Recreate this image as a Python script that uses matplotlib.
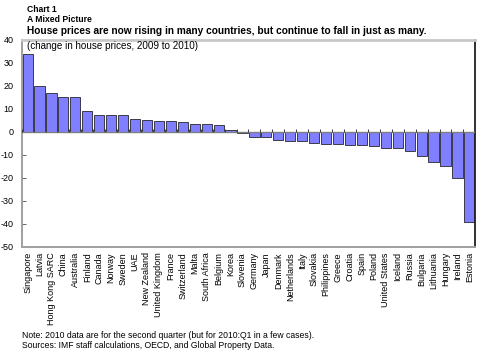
import numpy as np
import matplotlib
matplotlib.use("Agg")
import matplotlib.pyplot as plt

plt.rcParams['font.family'] = ['Liberation Sans', 'DejaVu Sans']

# house price change 2009 -> 2010, percent
countries = [
    "Singapore", "Latvia", "Hong Kong SARC", "China", "Australia", "Finland",
    "Canada", "Norway", "Sweden", "UAE", "New Zealand", "United Kingdom",
    "France", "Switzerland", "Malta", "South Africa", "Belgium", "Korea",
    "Slovenia", "Germany", "Japan", "Denmark", "Netherlands", "Italy",
    "Slovakia", "Philippines", "Greece", "Croatia", "Spain", "Poland",
    "United States", "Iceland", "Russia", "Bulgaria", "Lithuania", "Hungary",
    "Ireland", "Estonia",
]
changes = [
    33.8, 20.0, 16.8, 15.1, 15.1, 9.0,
    7.4, 7.4, 7.4, 5.5, 5.1, 4.5,
    4.5, 4.1, 3.5, 3.5, 3.0, 0.9,
    -0.4, -2.2, -2.2, -3.6, -3.9, -4.2,
    -5.1, -5.2, -5.2, -5.7, -5.8, -6.1,
    -7.1, -7.2, -8.4, -10.4, -13.3, -14.9,
    -20.0, -39.2,
]
yticks = [40, 30, 20, 10, 0, -10, -20, -30, -40, -50]

fig = plt.figure(figsize=(4.94, 3.6), dpi=100)
ax = fig.add_axes([0.0445, 0.315, 0.917, 0.575])

x = np.arange(len(countries))
ax.bar(x, changes, width=0.85, color='#7f7fff', edgecolor='#3a3a4a', linewidth=0.7, zorder=2)

# zero line with small category-boundary ticks
ax.axhline(0, color='#808080', linewidth=1.0, zorder=3)
ax.vlines(np.arange(len(countries) + 1) - 0.5, 0, 1.2, color='#404040', linewidth=0.7, zorder=3)

ax.set_xlim(-0.47, len(countries) - 0.53)
ax.set_ylim(-50, 40)
ax.set_yticks(yticks)
ax.set_yticklabels([str(v) for v in yticks], fontsize=6.5)
ax.tick_params(axis='y', direction='in', length=3, width=0.7, color='#606060', pad=6)
ax.set_xticks(x)
ax.set_xticklabels(countries, rotation=90, fontsize=6.5, va='top', ha='center')
ax.tick_params(axis='x', length=0, pad=4)

for side in ['left', 'bottom']:
    ax.spines[side].set_color('#a0a0a0')
    ax.spines[side].set_linewidth(1.4)
ax.spines['top'].set_color('#c8c8c8')
ax.spines['top'].set_linewidth(2.0)
ax.spines['right'].set_color('#202020')
ax.spines['right'].set_linewidth(1.3)

ax.text(0.01, 0.995, "(change in house prices, 2009 to 2010)", transform=ax.transAxes,
        fontsize=7.1, va='top', ha='left')

fig.text(27 / 494, 1 - 9 / 360, "Chart 1", fontsize=6.2, fontweight='bold', va='center')
fig.text(27 / 494, 1 - 19 / 360, "A Mixed Picture", fontsize=6.2, fontweight='bold', va='center')
fig.text(27 / 494, 1 - 31 / 360,
         "House prices are now rising in many countries, but continue to fall in just as many.",
         fontsize=7.25, fontweight='bold', va='center')

fig.text(22 / 494, 1 - 336 / 360,
         "Note: 2010 data are for the second quarter (but for 2010:Q1 in a few cases).",
         fontsize=6.2, va='center')
fig.text(22 / 494, 1 - 346 / 360,
         "Sources: IMF staff calculations, OECD, and Global Property Data.",
         fontsize=6.2, va='center')

fig.savefig("out.png", dpi=100)
